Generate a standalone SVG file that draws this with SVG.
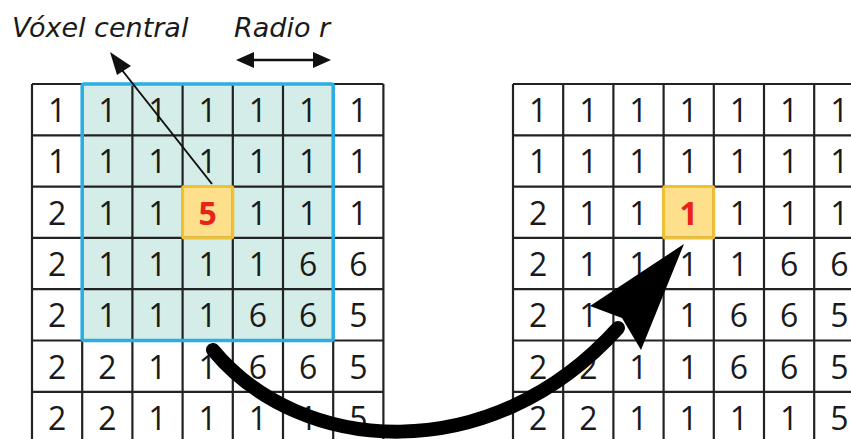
<svg xmlns="http://www.w3.org/2000/svg" width="851" height="439" viewBox="0 0 851 439">
<style>
.d{font-family:"Open Sans","DejaVu Sans",sans-serif;font-size:32px;fill:#1a1a1a;text-anchor:middle}
.r{fill:#e8231c;font-weight:bold}
.lbl{font-family:"DejaVu Sans","Open Sans",sans-serif;font-size:27px;font-style:italic;fill:#1a1a1a}
.gl{stroke:#222;stroke-width:2.2;fill:none}
</style>
<rect width="851" height="439" fill="#fff"/>

<g id="left-grid">
<rect x="82" y="84" width="252" height="257" fill="#d5ede8"/>
<rect x="183" y="187" width="50.2" height="51.3" fill="#fddf8c"/>
<path class="gl" d="M32,84V439M82.2,84V439M132.4,84V439M182.6,84V439M232.8,84V439M283,84V439M333.2,84V439M383.4,84V439M32,84H383.4M32,135.3H383.4M32,186.6H383.4M32,237.9H383.4M32,289.2H383.4M32,340.5H383.4M32,391.8H383.4"/>
<rect x="82.2" y="84" width="251" height="256.5" rx="2" fill="none" stroke="#2aaee3" stroke-width="3.5"/>
<rect x="182.6" y="186.6" width="50.2" height="51.3" rx="2" fill="none" stroke="#f2c12e" stroke-width="3"/>
<g class="d">
<text x="57.1" y="122">1</text><text x="107.3" y="122">1</text><text x="157.5" y="122">1</text><text x="207.7" y="122">1</text><text x="257.9" y="122">1</text><text x="308.1" y="122">1</text><text x="358.3" y="122">1</text>
<text x="57.1" y="173.3">1</text><text x="107.3" y="173.3">1</text><text x="157.5" y="173.3">1</text><text x="207.7" y="173.3">1</text><text x="257.9" y="173.3">1</text><text x="308.1" y="173.3">1</text><text x="358.3" y="173.3">1</text>
<text x="57.1" y="224.6">2</text><text x="107.3" y="224.6">1</text><text x="157.5" y="224.6">1</text><text x="207.7" y="224.6" class="r">5</text><text x="257.9" y="224.6">1</text><text x="308.1" y="224.6">1</text><text x="358.3" y="224.6">1</text>
<text x="57.1" y="275.9">2</text><text x="107.3" y="275.9">1</text><text x="157.5" y="275.9">1</text><text x="207.7" y="275.9">1</text><text x="257.9" y="275.9">1</text><text x="308.1" y="275.9">6</text><text x="358.3" y="275.9">6</text>
<text x="57.1" y="327.2">2</text><text x="107.3" y="327.2">1</text><text x="157.5" y="327.2">1</text><text x="207.7" y="327.2">1</text><text x="257.9" y="327.2">6</text><text x="308.1" y="327.2">6</text><text x="358.3" y="327.2">5</text>
<text x="57.1" y="378.5">2</text><text x="107.3" y="378.5">2</text><text x="157.5" y="378.5">1</text><text x="207.7" y="378.5">1</text><text x="257.9" y="378.5">6</text><text x="308.1" y="378.5">6</text><text x="358.3" y="378.5">5</text>
<text x="57.1" y="429.8">2</text><text x="107.3" y="429.8">2</text><text x="157.5" y="429.8">1</text><text x="207.7" y="429.8">1</text><text x="257.9" y="429.8">1</text><text x="308.1" y="429.8">1</text><text x="358.3" y="429.8">5</text>
</g>
</g>

<g id="right-grid">
<rect x="663.6" y="186.6" width="50.2" height="51.3" fill="#fddf8c"/>
<path class="gl" d="M513,84V439M563.2,84V439M613.4,84V439M663.6,84V439M713.8,84V439M764,84V439M814.2,84V439M513,84H851M513,135.3H851M513,186.6H851M513,237.9H851M513,289.2H851M513,340.5H851M513,391.8H851"/>
<rect x="663.6" y="186.6" width="50.2" height="51.3" rx="2" fill="none" stroke="#f2c12e" stroke-width="3"/>
<g class="d">
<text x="538.1" y="122">1</text><text x="588.3" y="122">1</text><text x="638.5" y="122">1</text><text x="688.7" y="122">1</text><text x="738.9" y="122">1</text><text x="789.1" y="122">1</text><text x="839.3" y="122">1</text>
<text x="538.1" y="173.3">1</text><text x="588.3" y="173.3">1</text><text x="638.5" y="173.3">1</text><text x="688.7" y="173.3">1</text><text x="738.9" y="173.3">1</text><text x="789.1" y="173.3">1</text><text x="839.3" y="173.3">1</text>
<text x="538.1" y="224.6">2</text><text x="588.3" y="224.6">1</text><text x="638.5" y="224.6">1</text><text x="688.7" y="224.6" class="r">1</text><text x="738.9" y="224.6">1</text><text x="789.1" y="224.6">1</text><text x="839.3" y="224.6">1</text>
<text x="538.1" y="275.9">2</text><text x="588.3" y="275.9">1</text><text x="638.5" y="275.9">1</text><text x="688.7" y="275.9">1</text><text x="738.9" y="275.9">1</text><text x="789.1" y="275.9">6</text><text x="839.3" y="275.9">6</text>
<text x="538.1" y="327.2">2</text><text x="588.3" y="327.2">1</text><text x="638.5" y="327.2">1</text><text x="688.7" y="327.2">1</text><text x="738.9" y="327.2">6</text><text x="789.1" y="327.2">6</text><text x="839.3" y="327.2">5</text>
<text x="538.1" y="378.5">2</text><text x="588.3" y="378.5">2</text><text x="638.5" y="378.5">1</text><text x="688.7" y="378.5">1</text><text x="738.9" y="378.5">6</text><text x="789.1" y="378.5">6</text><text x="839.3" y="378.5">5</text>
<text x="538.1" y="429.8">2</text><text x="588.3" y="429.8">2</text><text x="638.5" y="429.8">1</text><text x="688.7" y="429.8">1</text><text x="738.9" y="429.8">1</text><text x="789.1" y="429.8">1</text><text x="839.3" y="429.8">5</text>
</g>
</g>

<g id="label-voxel"><text class="lbl" x="12" y="37">Vóxel central</text></g>
<g id="label-radio"><text class="lbl" x="234" y="37">Radio r</text></g>

<g id="connectors">
<line x1="212" y1="184" x2="118" y2="65" stroke="#111" stroke-width="2"/>
<polygon points="110,52 131,66 117,75" fill="#111"/>
<line x1="248" y1="60" x2="318" y2="60" stroke="#111" stroke-width="2.5"/>
<polygon points="236,60 254,52 254,68" fill="#111"/>
<polygon points="331,60 313,52 313,68" fill="#111"/>
<path d="M213,350 C300,455 490,470 618,328" fill="none" stroke="#000" stroke-width="14" stroke-linecap="round"/>
<polygon points="684,244 590,306 622,318 641,350" fill="#000"/>
</g>
</svg>
